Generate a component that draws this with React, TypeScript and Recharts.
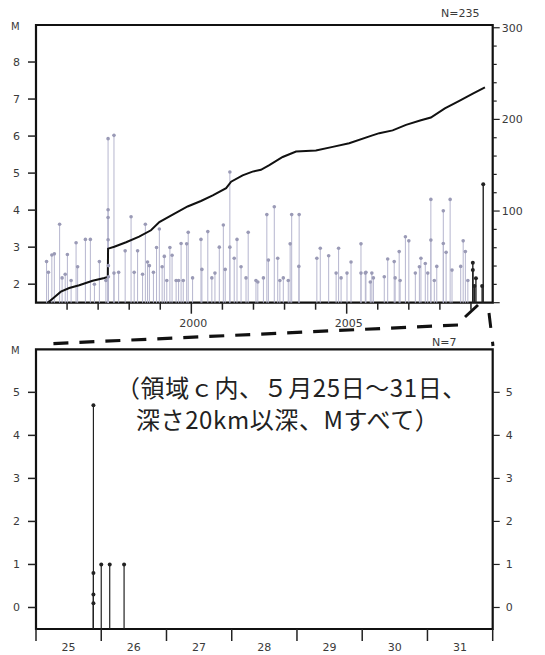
import React from "react";
import {
  ComposedChart,
  Scatter,
  Line,
  XAxis,
  YAxis,
  ErrorBar,
  ReferenceArea,
} from "recharts";

// [decimal year, magnitude] (M >= 1.5 only)
const PAST_EVENTS: [number, number][] = [
  [1995.34, 2.61], [1995.4, 2.32], [1995.51, 2.79], [1995.59, 2.82],
  [1995.76, 3.62], [1995.84, 2.17], [1995.94, 2.27], [1996.01, 2.8],
  [1996.13, 2.1], [1996.29, 3.12], [1996.34, 2.47], [1996.59, 3.21],
  [1996.75, 3.21], [1996.88, 2.0], [1997.04, 2.61], [1997.25, 2.1],
  [1997.32, 5.93], [1997.32, 4.01], [1997.32, 3.8], [1997.32, 3.2],
  [1997.33, 2.5], [1997.33, 2.2], [1997.51, 6.02], [1997.51, 2.3],
  [1997.66, 2.32], [1997.87, 2.9], [1998.06, 3.82], [1998.16, 2.32],
  [1998.27, 2.9], [1998.43, 2.27], [1998.52, 3.62], [1998.59, 2.6],
  [1998.65, 2.5], [1998.78, 2.32], [1998.88, 2.99], [1998.97, 3.49],
  [1999.06, 2.47], [1999.13, 2.75], [1999.21, 2.1], [1999.31, 2.99],
  [1999.38, 2.78], [1999.51, 2.1], [1999.59, 2.1], [1999.67, 3.1],
  [1999.74, 2.1], [1999.85, 3.09], [1999.9, 3.4], [2000.04, 2.17],
  [2000.31, 3.21], [2000.34, 2.4], [2000.53, 3.42], [2000.66, 2.17],
  [2000.76, 2.3], [2000.9, 3.0], [2001.03, 3.6], [2001.09, 2.4],
  [2001.24, 5.03], [2001.24, 3.0], [2001.38, 2.7], [2001.47, 3.21],
  [2001.6, 2.47], [2001.76, 2.17], [2001.83, 3.4], [2002.08, 2.1],
  [2002.14, 2.06], [2002.32, 2.17], [2002.43, 3.88], [2002.48, 2.65],
  [2002.67, 4.09], [2002.78, 2.7], [2002.85, 2.1], [2002.96, 2.17],
  [2003.12, 2.1], [2003.18, 3.09], [2003.23, 3.88], [2003.46, 2.48],
  [2003.47, 3.88], [2004.04, 2.7], [2004.15, 2.97], [2004.42, 2.77],
  [2004.66, 2.3], [2004.74, 2.97], [2004.82, 2.17], [2005.01, 2.3],
  [2005.14, 2.6], [2005.46, 3.09], [2005.46, 2.3], [2005.6, 2.3],
  [2005.62, 2.32], [2005.76, 2.06], [2005.81, 2.3], [2005.86, 2.17],
  [2006.21, 2.2], [2006.32, 2.68], [2006.53, 2.61], [2006.56, 2.17],
  [2006.69, 2.88], [2006.72, 2.1], [2006.89, 3.28], [2007.0, 3.17],
  [2007.21, 2.3], [2007.34, 2.47], [2007.39, 2.7], [2007.53, 2.56],
  [2007.61, 2.3], [2007.71, 4.29], [2007.71, 3.19], [2007.82, 2.1],
  [2007.9, 2.48], [2008.11, 3.98], [2008.11, 3.1], [2008.2, 2.86],
  [2008.33, 4.29], [2008.39, 2.38], [2008.67, 2.48], [2008.75, 3.17],
  [2008.82, 2.88], [2008.9, 2.1],
];

// most recent events, drawn dark
const RECENT_EVENTS: [number, number][] = [
  [2009.06, 2.58], [2009.06, 2.38], [2009.11, 1.95], [2009.16, 2.16],
  [2009.36, 1.95], [2009.395, 4.7],
];

// cumulative number of events (right axis)
const CUM_YEARS = [
  1995.38, 1995.59, 1995.8, 1996.07, 1996.39, 1996.82, 1997.2, 1997.31,
  1997.32, 1997.52, 1997.9, 1998.32, 1998.7, 1998.97, 1999.4, 1999.88,
  2000.31, 2000.69, 2001.12, 2001.28, 2001.65, 2001.97, 2002.24, 2002.51,
  2002.94, 2003.37, 2004.01, 2004.55, 2005.08, 2005.78, 2006.05, 2006.48,
  2006.91, 2007.39, 2007.71, 2008.16, 2008.61, 2009.06, 2009.45,
];
const CUM_COUNTS = [
  0, 6, 12, 16, 19, 24, 27, 28, 59, 61, 66, 72, 79, 88, 96, 105, 111, 117,
  125, 132, 139, 143, 145, 150, 159, 165, 166, 170, 174, 182, 185, 188, 194,
  199, 202, 212, 220, 228, 235,
];

const YEAR_TICKS = [
  1996, 1997, 1998, 1999, 2000, 2001, 2002, 2003, 2004, 2005, 2006, 2007,
  2008, 2009,
];
const YEAR_LABELS = [2000, 2005];
const M_TICKS_TOP = [2, 3, 4, 5, 6, 7, 8];
const COUNT_TICKS = [
  0, 20, 40, 60, 80, 100, 120, 140, 160, 180, 200, 220, 240, 260, 280, 300,
];

// [day of May, magnitude] for the lower panel
const DAY_EVENTS: [number, number][] = [
  [25.88, 4.7], [25.88, 0.8], [25.88, 0.3], [25.88, 0.1],
  [26.0, 1.0], [26.13, 1.0], [26.35, 1.0],
];
const DAY_TICKS = [25, 26, 27, 28, 29, 30, 31, 32];
const DAY_LABELS = [25, 26, 27, 28, 29, 30, 31];
const M_TICKS_BOTTOM = [0, 1, 2, 3, 4, 5];

const TOP_M_MIN = 1.5;
const BOTTOM_M_MIN = -0.5;

const FONT = "'DejaVu Sans', sans-serif";
const INK = "#222";
const LABEL = "#3a3a3a";

const pastData = PAST_EVENTS.map(([x, y]) => ({ x, y, err: [y - TOP_M_MIN, 0] }));
const recentData = RECENT_EVENTS.map(([x, y]) => ({ x, y, err: [y - TOP_M_MIN, 0] }));
const cumData = CUM_YEARS.map((x, i) => ({ x, y: CUM_COUNTS[i] }));
const dayData = DAY_EVENTS.map(([x, y]) => ({ x, y, err: [y - BOTTOM_M_MIN, 0] }));
const dayTickValues = [...DAY_TICKS, ...DAY_LABELS.map((d) => d + 0.5)].sort((a, b) => a - b);

const tickText = {
  fontFamily: FONT,
  fontSize: 11,
  fill: LABEL,
};

const YearTick = (props: any) => {
  const { x, y, payload } = props;
  const major = YEAR_LABELS.includes(payload.value);
  return (
    <g>
      <line x1={x} y1={y} x2={x} y2={y + (major ? 11 : 7)} stroke={INK} strokeWidth={1.5} />
      {major && (
        <text x={x + 2} y={y + 24} textAnchor="middle" {...tickText}>
          {payload.value}
        </text>
      )}
    </g>
  );
};

const DayTick = (props: any) => {
  const { x, y, payload } = props;
  const v = payload.value;
  if (Number.isInteger(v)) {
    return <line x1={x} y1={y} x2={x} y2={y + 12} stroke={INK} strokeWidth={1.5} />;
  }
  return (
    <text x={x} y={y + 22} textAnchor="middle" {...tickText}>
      {Math.floor(v)}
    </text>
  );
};

const LeftTick = (props: any) => {
  const { x, y, payload } = props;
  return (
    <g>
      <line x1={x - 8} y1={y} x2={x} y2={y} stroke={INK} strokeWidth={1.5} />
      <text x={x - 16} y={y + 4} textAnchor="end" {...tickText}>
        {payload.value}
      </text>
    </g>
  );
};

const CountTick = (props: any) => {
  const { x, y, payload } = props;
  const v = payload.value;
  const major = v % 100 === 0;
  return (
    <g>
      <line x1={x} y1={y} x2={x + (major ? 7 : 4)} y2={y} stroke={INK} strokeWidth={1.2} />
      {major && v > 0 && (
        <text x={x + 9} y={y + 4} textAnchor="start" {...tickText}>
          {v}
        </text>
      )}
    </g>
  );
};

const RightMTick = (props: any) => {
  const { x, y, payload } = props;
  return (
    <g>
      <line x1={x} y1={y} x2={x + 7} y2={y} stroke={INK} strokeWidth={1.2} />
      <text x={x + 13} y={y + 4} textAnchor="start" {...tickText}>
        {payload.value}
      </text>
    </g>
  );
};

const lightDot = (p: any) => <circle cx={p.cx} cy={p.cy} r={1.8} fill="#9a9ab6" />;
const darkDot = (p: any) => <circle cx={p.cx} cy={p.cy} r={2} fill="#222" />;

const TopChart = () => (
  <ComposedChart
    width={545}
    height={340}
    margin={{ top: 25, right: 12.3, bottom: 7.3, left: 6 }}
  >
    <XAxis
      dataKey="x"
      type="number"
      domain={[1995, 2009.7]}
      allowDataOverflow
      ticks={YEAR_TICKS}
      interval={0}
      tick={<YearTick />}
      tickLine={false}
      tickSize={0}
      tickMargin={0}
      axisLine={false}
      height={30}
    />
    <YAxis
      yAxisId="m"
      type="number"
      domain={[TOP_M_MIN, 9]}
      allowDataOverflow
      ticks={M_TICKS_TOP}
      interval={0}
      tick={<LeftTick />}
      tickLine={false}
      tickSize={0}
      tickMargin={0}
      axisLine={false}
      width={30}
    />
    <YAxis
      yAxisId="count"
      orientation="right"
      type="number"
      domain={[0, 303]}
      allowDataOverflow
      ticks={COUNT_TICKS}
      interval={0}
      tick={<CountTick />}
      tickLine={false}
      tickSize={0}
      tickMargin={0}
      axisLine={false}
      width={40}
    />
    <Scatter
      yAxisId="m"
      data={pastData}
      dataKey="y"
      shape={lightDot}
      isAnimationActive={false}
    >
      <ErrorBar dataKey="err" direction="y" width={0} stroke="#b6b6cf" strokeWidth={1} />
    </Scatter>
    <Scatter
      yAxisId="m"
      data={recentData}
      dataKey="y"
      shape={darkDot}
      isAnimationActive={false}
    >
      <ErrorBar dataKey="err" direction="y" width={0} stroke="#222" strokeWidth={1.4} />
    </Scatter>
    <Line
      yAxisId="count"
      data={cumData}
      dataKey="y"
      type="linear"
      stroke="#111"
      strokeWidth={2}
      dot={false}
      isAnimationActive={false}
    />
    <ReferenceArea
      yAxisId="m"
      x1={1995}
      x2={2009.7}
      y1={TOP_M_MIN}
      y2={9}
      fill="none"
      stroke="#111"
      strokeWidth={2.2}
      ifOverflow="visible"
    />
  </ComposedChart>
);

const BottomChart = () => (
  <ComposedChart
    width={545}
    height={315}
    margin={{ top: 9.3, right: 12.3, bottom: 6, left: 6 }}
  >
    <XAxis
      dataKey="x"
      type="number"
      domain={[25, 32]}
      allowDataOverflow
      ticks={dayTickValues}
      interval={0}
      tick={<DayTick />}
      tickLine={false}
      tickSize={0}
      tickMargin={0}
      axisLine={false}
      height={20}
    />
    <YAxis
      yAxisId="m"
      type="number"
      domain={[BOTTOM_M_MIN, 6]}
      allowDataOverflow
      ticks={M_TICKS_BOTTOM}
      interval={0}
      tick={<LeftTick />}
      tickLine={false}
      tickSize={0}
      tickMargin={0}
      axisLine={false}
      width={30}
    />
    <YAxis
      yAxisId="r"
      orientation="right"
      type="number"
      domain={[BOTTOM_M_MIN, 6]}
      allowDataOverflow
      ticks={M_TICKS_BOTTOM}
      interval={0}
      tick={<RightMTick />}
      tickLine={false}
      tickSize={0}
      tickMargin={0}
      axisLine={false}
      width={40}
    />
    <Scatter
      yAxisId="m"
      data={dayData}
      dataKey="y"
      shape={darkDot}
      isAnimationActive={false}
    >
      <ErrorBar dataKey="err" direction="y" width={0} stroke="#222" strokeWidth={1.2} />
    </Scatter>
    <ReferenceArea
      yAxisId="m"
      x1={25}
      x2={32}
      y1={BOTTOM_M_MIN}
      y2={6}
      fill="none"
      stroke="#111"
      strokeWidth={2.2}
      ifOverflow="visible"
    />
  </ComposedChart>
);

const smallText: React.CSSProperties = {
  position: "absolute",
  fontFamily: FONT,
  fontSize: 11,
  color: LABEL,
  lineHeight: "12px",
  whiteSpace: "nowrap",
};

const noteText: React.CSSProperties = {
  position: "absolute",
  fontFamily: "'Noto Sans CJK JP', sans-serif",
  fontSize: 24,
  letterSpacing: 0.6,
  color: "#222",
  lineHeight: "28px",
  whiteSpace: "nowrap",
};

export default function App() {
  return (
    <div
      style={{
        position: "absolute",
        left: 0,
        top: 0,
        width: 545,
        height: 655,
        background: "#fff",
        overflow: "hidden",
      }}
    >
      <div style={{ position: "absolute", left: 0, top: 0 }}>
        <TopChart />
      </div>
      <div style={{ position: "absolute", left: 0, top: 340 }}>
        <BottomChart />
      </div>

      <div style={{ ...smallText, fontSize: 10, left: 11, top: 21 }}>M</div>
      <div style={{ ...smallText, left: 441, top: 8 }}>N=235</div>
      <div style={{ ...smallText, fontSize: 10, left: 11, top: 345 }}>M</div>
      <div style={{ ...smallText, left: 432, top: 337 }}>N=7</div>

      <div style={{ ...noteText, left: 116, top: 373 }}>
        （領域ｃ内、５月25日～31日、
      </div>
      <div style={{ ...noteText, left: 136, top: 405 }}>
        深さ20km以深、Mすべて）
      </div>

      {/* zoom connector lines between the two panels */}
      <svg
        width={545}
        height={655}
        style={{ position: "absolute", left: 0, top: 0, pointerEvents: "none" }}
      >
        <path d="M478,305 L465,317" stroke="#111" strokeWidth={3} fill="none" />
        <path
          d="M458,325 L44,344"
          stroke="#111"
          strokeWidth={3.2}
          strokeDasharray="15 11"
          fill="none"
        />
        <path
          d="M489,313 L493,346"
          stroke="#111"
          strokeWidth={3}
          strokeDasharray="15 14"
          fill="none"
        />
      </svg>
    </div>
  );
}
